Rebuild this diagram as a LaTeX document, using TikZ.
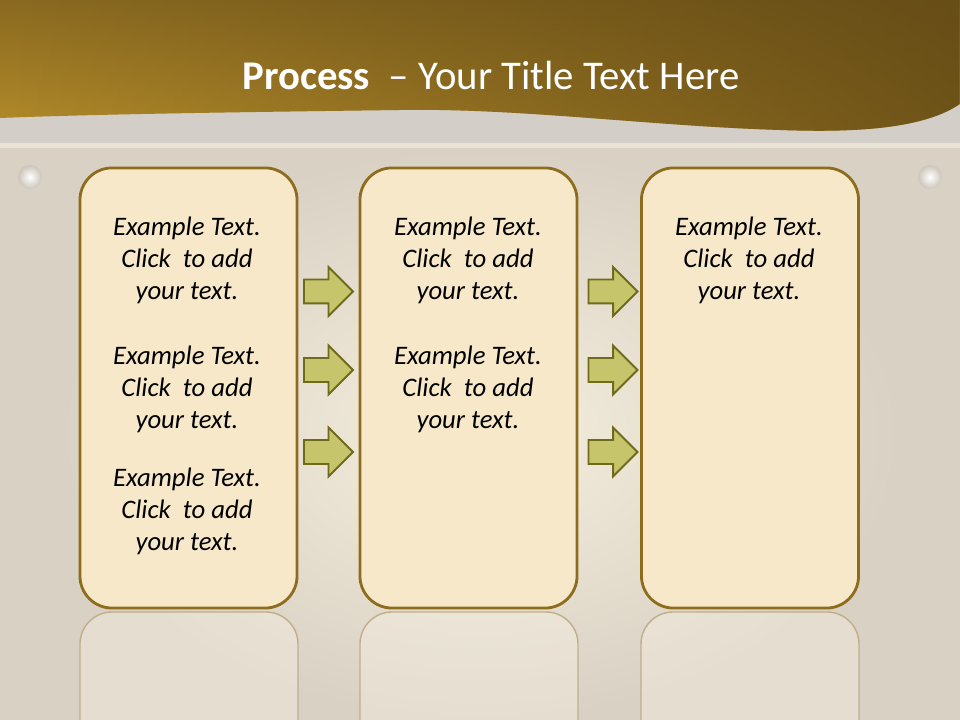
\documentclass[tikz,border=0pt]{standalone}
\usepackage{fontspec}
\setmainfont{Carlito}
\usetikzlibrary{shapes.arrows,fadings}

\definecolor{headdark}{HTML}{5E4614}
\definecolor{headmid}{HTML}{8A6A21}
\definecolor{headgold}{HTML}{B48C2A}
\definecolor{bandgrey}{HTML}{D3CFC8}
\definecolor{bgedge}{HTML}{D9D1C4}
\definecolor{bgglow}{HTML}{F5EFDD}
\definecolor{cardfill}{HTML}{F7E8C9}
\definecolor{cardline}{HTML}{8E6C1E}
\definecolor{arrowfill}{HTML}{C6C56C}
\definecolor{arrowline}{HTML}{6F6A1C}

\begin{document}
\begin{tikzpicture}[x=0.025cm, y=-0.025cm,
  card/.style={draw=cardline, line width=2pt, fill=cardfill, rounded corners=0.8cm,
    minimum width=5.425cm, minimum height=11cm, inner sep=0pt},
  ghost/.style={draw=cardline!35!bgedge, line width=1pt, fill=white!60!cardfill, fill opacity=0.35,
    rounded corners=0.8cm},
  flow/.style={single arrow, draw=arrowline, line width=1.4pt, fill=arrowfill,
    minimum height=1.225cm, inner xsep=0pt, inner ysep=0.275cm,
    single arrow head extend=0.3125cm, single arrow head indent=0pt},
  note/.style={align=center, font=\fontsize{19}{22.7}\selectfont\itshape}]

  \useasboundingbox (0,0) rectangle (960,720);

  % background
  \fill[bgedge] (0,0) rectangle (960,720);
  \shade[inner color=bgglow, outer color=bgedge] (60,148) rectangle (900,720);
  \shade[left color=bandgrey, middle color=white!70!bandgrey, right color=bandgrey] (0,95) rectangle (960,143);
  \fill[bgglow!70!bandgrey] (0,143) rectangle (960,148);

  % header wave
  \def\wave{(0,0) -- (960,0) -- (960,104)
    .. controls (925,128) and (860,133) .. (780,130)
    .. controls (650,126) and (520,108) .. (400,110)
    .. controls (250,112) and (100,114) .. (0,118) -- cycle}
  \shade[top color=headmid, bottom color=headgold] \wave;
  \fill[headdark, path fading=west, fill opacity=0.8] \wave;

  \node[font=\fontsize{29}{35}\selectfont, text=white] (title) at (491,75)
    {\textbf{Process}\ \ – Your Title Text Here};

  \shade[inner color=white, outer color=bgedge!85!gray] (30,177) circle (12);
  \shade[inner color=white, outer color=bgedge!85!gray] (930,177) circle (12);

  % reflections
  \begin{scope}
    \clip (0,0) rectangle (960,720);
    \foreach \x in {80, 360, 641} {
      \draw[ghost] (\x,612) rectangle ++(218,200);
    }
  \end{scope}

  % cards
  \node[card] (card1) at (188.5,388) {};
  \node[card] (card2) at (468.5,388) {};
  \node[card] (card3) at (750,388) {};

  % arrows
  \foreach \ax/\col in {322.5/a, 607/b} {
    \foreach \ay/\row in {291.5/1, 370/2, 452/3} {
      \node[flow] (arr\col\row) at (\ax,\ay) {};
    }
  }

  % texts
  \foreach \cx/\cy/\k in {187/260/1, 187/389/2, 187/511/3,
                          468/260/4, 468/389/5, 749/260/6} {
    \node[note] (txt\k) at (\cx,\cy) {Example Text.\\Click\ \ to add\\your text.};
  }

\end{tikzpicture}
\end{document}
